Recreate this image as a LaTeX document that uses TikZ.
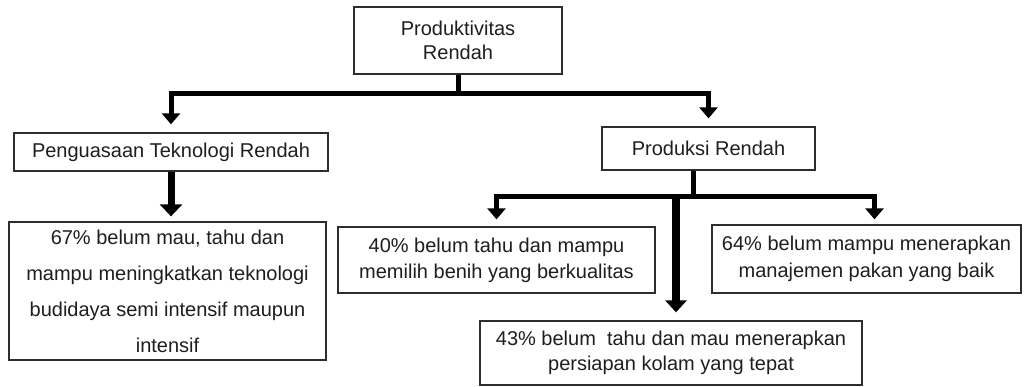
\documentclass[tikz,border=0pt]{standalone}
\usepackage{fontspec}
\setmainfont{Liberation Sans}
\usetikzlibrary{arrows.meta, positioning, calc}
\definecolor{boxline}{RGB}{45,45,45}
\definecolor{boxtext}{RGB}{30,30,30}

\begin{document}
\begin{tikzpicture}[x=1pt, y=-1pt,
  box/.style={draw=boxline, line width=1.3pt, text=boxtext, align=center, inner sep=0pt, font=\fontsize{20}{24}\selectfont},
  link/.style={line width=5pt, line join=miter},
  arr/.style={link, -{Triangle[width=18pt, length=11pt]}, shorten >=7pt}]
  \useasboundingbox (0,0) rectangle (1024,387);

  \node[box, minimum width=208pt, minimum height=67pt] (top) at (458,40.5) {Produktivitas\\Rendah};
  \node[box, minimum width=314pt, minimum height=38pt] (pen) at (171,152) {Penguasaan Teknologi Rendah};
  \node[box, minimum width=213pt, minimum height=43pt] (prod) at (708.5,148.5) {Produksi Rendah};
  \node[box, minimum width=317pt, minimum height=138pt, font=\fontsize{20}{36}\selectfont] (b67) at (167.5,291)
    {67\% belum mau, tahu dan\\mampu meningkatkan teknologi\\budidaya semi intensif maupun\\intensif};
  \node[box, minimum width=317pt, minimum height=66pt, font=\fontsize{20}{26}\selectfont] (b40) at (496.5,260)
    {40\% belum tahu dan mampu\\memilih benih yang berkualitas};
  \node[box, minimum width=382pt, minimum height=64pt, font=\fontsize{20}{25}\selectfont] (b43) at (671,353)
    {43\% belum~ tahu dan mau menerapkan\\persiapan kolam yang tepat};
  \node[box, minimum width=309pt, minimum height=68pt, font=\fontsize{20}{27}\selectfont] (b64) at (866.5,259)
    {64\% belum mampu menerapkan\\manajemen pakan yang baik};

  \coordinate (hubA) at (458,94);
  \coordinate (hubB) at (693,197);
  \coordinate (midB) at ([xshift=5pt]b43.north);
  \coordinate (rgtB) at ([xshift=8pt]b64.north);

  \draw[link] (top.south) -- (hubA);
  \draw[arr, shorten >=8pt] (hubA) -| (pen.north);
  \draw[arr, shorten >=8pt] (hubA) -| (prod.north);
  \draw[arr, line width=7pt, -{Triangle[width=22pt, length=12pt]}, shorten >=5pt] (pen.south) -- (pen.south |- b67.north);

  \draw[link] (hubB |- prod.south) -- (hubB);
  \draw[arr] (hubB) -| (b40.north);
  \draw[arr, shorten >=5pt] (hubB) -| (rgtB);
  \draw[arr, line width=8pt, -{Triangle[width=21pt, length=12pt]}, shorten >=8pt] (hubB -| midB) -- (midB);
\end{tikzpicture}
\end{document}
